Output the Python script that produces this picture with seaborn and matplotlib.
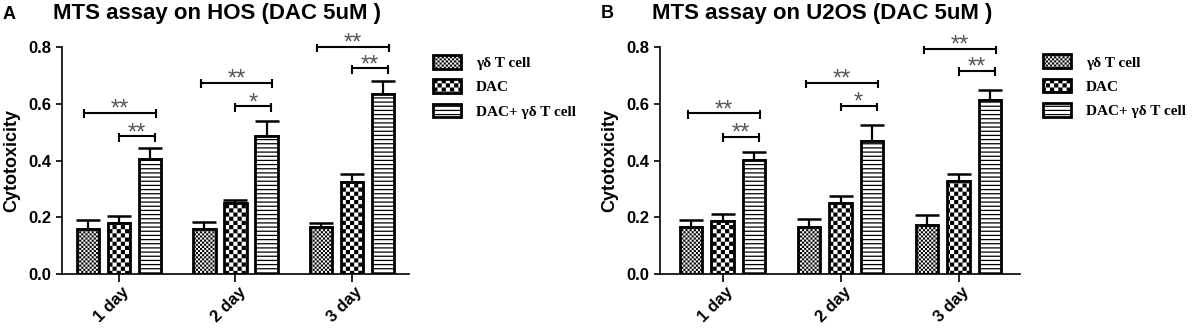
import numpy as np
import pandas as pd
import matplotlib
matplotlib.use('Agg')
import matplotlib.pyplot as plt
import matplotlib.hatch as mhatch
import matplotlib.transforms as mtransforms
from matplotlib.path import Path
import seaborn as sns

days = ['1 day', '2 day', '3 day']
groups = ['γδ T cell', 'DAC', 'DAC+ γδ T cell']

# panel A: HOS
hos_gd = [0.159, 0.160, 0.166]
hos_dac = [0.179, 0.251, 0.326]
hos_combo = [0.405, 0.488, 0.634]
hos_gd_sem = [0.032, 0.024, 0.013]
hos_dac_sem = [0.026, 0.010, 0.027]
hos_combo_sem = [0.039, 0.052, 0.047]
hos_long = [0.568, 0.674, 0.800]
hos_short = [0.485, 0.591, 0.725]

# panel B: U2OS
u2os_gd = [0.167, 0.167, 0.174]
u2os_dac = [0.186, 0.250, 0.327]
u2os_combo = [0.401, 0.470, 0.614]
u2os_gd_sem = [0.024, 0.027, 0.034]
u2os_dac_sem = [0.027, 0.026, 0.024]
u2os_combo_sem = [0.028, 0.055, 0.033]
u2os_long = [0.566, 0.673, 0.793]
u2os_short = [0.484, 0.592, 0.717]

long_stars = ['**', '**', '**']
short_stars = ['**', '*', '**']


# checkerboard hatches: 'o' -> fine checker, 'O' -> coarse checker
class _Checker(mhatch.HatchPatternBase):
    char = 'o'

    def __init__(self, hatch, density):
        n = hatch.count(self.char) * density
        self.n = n - n % 2
        self.num_vertices = (self.n * self.n // 2) * 5

    def set_vertices_and_codes(self, vertices, codes):
        s = 1.0 / self.n
        shrink = plt.rcParams['hatch.linewidth'] / 72.0
        a, b = shrink / 2, s - shrink / 2
        sq = np.array([[a, a], [b, a], [b, b], [a, b], [a, a]])
        k = 0
        for i in range(self.n):
            for j in range(self.n):
                if (i + j) % 2 == 0:
                    vertices[k:k + 5] = sq + [i * s, j * s]
                    codes[k:k + 5] = [Path.MOVETO, Path.LINETO, Path.LINETO,
                                      Path.LINETO, Path.CLOSEPOLY]
                    k += 5


class FineChecker(_Checker):
    char = 'o'


class CoarseChecker(_Checker):
    char = 'O'


mhatch._hatch_types = [FineChecker if t is mhatch.SmallCircles else
                       CoarseChecker if t is mhatch.LargeCircles else t
                       for t in mhatch._hatch_types]

plt.rcParams['font.family'] = ['Liberation Sans', 'DejaVu Sans']
plt.rcParams['font.weight'] = 'bold'
plt.rcParams['axes.labelweight'] = 'bold'
plt.rcParams['hatch.linewidth'] = 0.9
plt.rcParams['hatch.color'] = 'black'

hatches = ['oooooooo', 'OOOO', '----']


def draw_panel(ax, means, sems, long_h, short_h, xlim):
    df = pd.DataFrame({
        'day': np.repeat([days], 3, axis=0).ravel(),
        'group': np.repeat(groups, 3),
        'value': np.concatenate(means),
    })
    sns.barplot(df, x='day', y='value', hue='group', hue_order=groups,
                palette=['white'] * 3, saturation=1, edgecolor='black',
                linewidth=2.0, gap=0.28, errorbar=None, legend=False, ax=ax)
    bar_conts = list(ax.containers)
    for cont, hatch, sem in zip(bar_conts, hatches, sems):
        xs = []
        ys = []
        for bar in cont:
            bar.set_hatch(hatch)
            xs.append(bar.get_x() + bar.get_width() / 2)
            ys.append(bar.get_height())
        ax.errorbar(xs, ys, yerr=[np.zeros(len(sem)), sem], fmt='none',
                    ecolor='black', elinewidth=1.6, capsize=8.5, capthick=1.8,
                    zorder=0.5)

    # significance brackets
    centers = [[b.get_x() + b.get_width() / 2 for b in c] for c in bar_conts]
    left, mid, right = centers
    for i in range(3):
        for x0, x1, y, s in [(left[i] - 0.03, right[i] + 0.05, long_h[i], long_stars[i]),
                             (mid[i], right[i] + 0.04, short_h[i], short_stars[i])]:
            ax.plot([x0, x1], [y, y], color='black', lw=1.5, clip_on=False)
            ax.vlines([x0, x1], y - 0.019, y + 0.012, color='black', lw=1.5,
                      clip_on=False)
            ax.annotate(s, ((x0 + x1) / 2, y), xytext=(0, -2),
                        textcoords='offset points', ha='center', va='baseline',
                        fontsize=17, color='#555555', fontweight='normal',
                        annotation_clip=False)

    ax.set_xlim(*xlim)
    ax.set_ylim(0, 0.8)
    ax.set_yticks([0, 0.2, 0.4, 0.6, 0.8])
    ax.set_yticklabels(['0.0', '0.2', '0.4', '0.6', '0.8'])
    ax.set_xlabel('')
    ax.set_ylabel('Cytotoxicity', fontsize=13, labelpad=6)
    sns.despine(ax=ax)
    for sp in ['left', 'bottom']:
        ax.spines[sp].set_linewidth(1.2)
    ax.tick_params(axis='y', length=4, width=1.2, labelsize=12)
    ax.tick_params(axis='x', length=6, width=1.2, labelsize=12)
    offset = mtransforms.ScaledTranslation(8 / 100, -2 / 100, ax.figure.dpi_scale_trans)
    for lab in ax.get_xticklabels():
        lab.set_rotation(45)
        lab.set_ha('right')
        lab.set_va('center')
        lab.set_rotation_mode('anchor')
        lab.set_transform(lab.get_transform() + offset)
    ax.legend(handles=[c.patches[0] for c in bar_conts], labels=groups,
              loc='upper left', frameon=False, borderaxespad=0, borderpad=0,
              handlelength=1.8, handleheight=1.0, handletextpad=1.0,
              labelspacing=0.6,
              prop={'family': 'Liberation Serif', 'weight': 'bold', 'size': 11})


fig = plt.figure(figsize=(11.92, 3.36), dpi=100)
ax_a = fig.add_axes([0.0520, 0.1845, 0.2911, 0.6756])
ax_b = fig.add_axes([0.5537, 0.1845, 0.3020, 0.6756])

draw_panel(ax_a, [hos_gd, hos_dac, hos_combo],
           [hos_gd_sem, hos_dac_sem, hos_combo_sem],
           hos_long, hos_short, (-0.49, 2.49))
draw_panel(ax_b, [u2os_gd, u2os_dac, u2os_combo],
           [u2os_gd_sem, u2os_dac_sem, u2os_combo_sem],
           u2os_long, u2os_short, (-0.53, 2.52))

ax_a.get_legend().set_bbox_to_anchor((0.3633, 0.836), transform=fig.transFigure)
ax_b.get_legend().set_bbox_to_anchor((0.875, 0.838), transform=fig.transFigure)

fig.text(0.182, 0.961, 'MTS assay on HOS (DAC 5uM )', ha='center', va='center',
         fontsize=16, fontweight='bold')
fig.text(0.6896, 0.961, 'MTS assay on U2OS (DAC 5uM )', ha='center', va='center',
         fontsize=16, fontweight='bold')
fig.text(0.002, 0.957, 'A', ha='left', va='center', fontsize=13, fontweight='bold')
fig.text(0.504, 0.960, 'B', ha='left', va='center', fontsize=13, fontweight='bold')

fig.savefig('out.png', dpi=100)
